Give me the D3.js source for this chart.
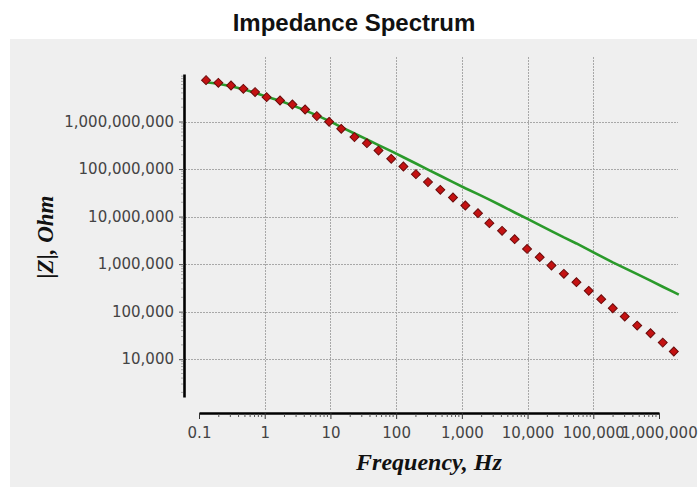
<!DOCTYPE html>
<html>
<head>
<meta charset="utf-8">
<script src="https://cdn.jsdelivr.net/npm/d3@7"></script>
<style>
  html, body { margin: 0; padding: 0; background: #ffffff; }
  svg { display: block; }
</style>
</head>
<body>
<svg id="chart" width="698" height="488"></svg>
<script>
// Measured impedance magnitude |Z| (Ohm) at each frequency (Hz)
const freq = [0.128, 0.197, 0.307, 0.473, 0.713, 1.07, 1.71, 2.64, 4.12, 6.21,
  9.55, 14.6, 23.2, 35.9, 53.9, 84.1, 129, 200, 305, 470,
  733, 1130, 1760, 2620, 4090, 6360, 9820, 15300, 23100, 35700,
  55400, 85300, 132000, 198000, 301000, 466000, 743000, 1140000, 1680000];
const zMeasured = [7.43e9, 6.52e9, 5.72e9, 4.88e9, 4.16e9, 3.26e9, 2.77e9, 2.28e9, 1.79e9, 1.30e9,
  9.86e8, 7.02e8, 4.70e8, 3.51e8, 2.45e8, 1.64e8, 1.13e8, 7.82e7, 5.31e7, 3.66e7,
  2.52e7, 1.71e7, 1.18e7, 7.28e6, 5.01e6, 3.35e6, 2.09e6, 1.40e6, 9.33e5, 6.24e5,
  4.17e5, 2.74e5, 1.83e5, 1.18e5, 7.88e4, 5.09e4, 3.52e4, 2.23e4, 1.45e4];

// Model curve |Z| (Ohm)
const freqFit = [0.128, 0.197, 0.307, 0.473, 0.713, 1.07, 1.71, 2.64, 4.12, 6.21,
  9.55, 14.6, 23.2, 35.9, 53.9, 84.1, 129, 200, 305, 470,
  733, 1130, 1760, 2620, 4090, 6360, 9820, 15300, 23100, 35700,
  55400, 85300, 132000, 198000, 301000, 466000, 743000, 1140000, 1680000, 2000000];
const zFit = [6.68e9, 6.21e9, 5.51e9, 4.76e9, 4.02e9, 3.31e9, 2.73e9, 2.19e9, 1.72e9, 1.35e9,
  1.03e9, 7.62e8, 5.59e8, 4.20e8, 3.20e8, 2.38e8, 1.77e8, 1.31e8, 9.77e7, 7.23e7,
  5.33e7, 3.95e7, 2.97e7, 2.27e7, 1.67e7, 1.22e7, 9.06e6, 6.61e6, 4.94e6, 3.64e6,
  2.72e6, 1.99e6, 1.45e6, 1.09e6, 8.26e5, 6.15e5, 4.49e5, 3.34e5, 2.57e5, 2.28e5];

const xTicks = [0.1, 1, 10, 100, 1000, 10000, 100000, 1000000];
const xTickLabels = ["0.1", "1", "10", "100", "1,000", "10,000", "100,000", "1,000,000"];
const yTicks = [1e4, 1e5, 1e6, 1e7, 1e8, 1e9];
const yTickLabels = ["10,000", "100,000", "1,000,000", "10,000,000", "100,000,000", "1,000,000,000"];

const titleText = "Impedance Spectrum";
const xTitle = "Frequency, Hz";
const yTitle = "|Z|, Ohm";

const svg = d3.select("#chart");

const x = d3.scaleLog().domain([0.1, 1e6]).range([199, 659]);
const y = d3.scaleLog().domain([1600, 1e10]).range([397, 74]);

// plot panel
svg.append("rect")
  .attr("x", 10).attr("y", 39).attr("width", 687).attr("height", 448)
  .attr("fill", "#efefef");

// title
svg.append("text")
  .attr("x", 354).attr("y", 31)
  .attr("text-anchor", "middle")
  .attr("font-family", "'Liberation Sans', Arial, sans-serif")
  .attr("font-weight", "bold")
  .attr("font-size", 24)
  .attr("fill", "#111")
  .text(titleText);

// grid
const grid = svg.append("g").attr("stroke", "#a8a8a8").attr("stroke-width", 1)
  .attr("stroke-dasharray", "2,1");
grid.selectAll("line.h").data(yTicks).join("line")
  .attr("class", "h")
  .attr("x1", 185).attr("x2", 678)
  .attr("y1", d => Math.round(y(d)) + 0.5).attr("y2", d => Math.round(y(d)) + 0.5);
grid.selectAll("line.v").data(xTicks.slice(1, -1)).join("line")
  .attr("class", "v")
  .attr("y1", 57).attr("y2", 410)
  .attr("x1", d => Math.round(x(d)) + 0.5).attr("x2", d => Math.round(x(d)) + 0.5);

// y axis
const yAxis = d3.axisLeft(y)
  .tickValues(yTicks)
  .tickFormat((d, i) => yTickLabels[i])
  .tickSizeInner(5).tickSizeOuter(0).tickPadding(5);
const gy = svg.append("g").attr("transform", "translate(184,0)").call(yAxis);
gy.select(".domain").attr("stroke", "#000").attr("stroke-width", 2.6);
gy.selectAll(".tick line").attr("stroke", "#555");
gy.selectAll(".tick text")
  .attr("font-family", "'DejaVu Sans', Verdana, sans-serif")
  .attr("font-size", 15).attr("fill", "#444");

// y minor ticks
const yMinor = [];
for (let e = 3; e <= 9; e++) for (let m = 2; m <= 9; m++) {
  const v = m * Math.pow(10, e);
  if (v >= 1600 && v <= 1e10) yMinor.push(v);
}
svg.append("g").selectAll("line").data(yMinor).join("line")
  .attr("x1", 181).attr("x2", 183)
  .attr("y1", d => y(d)).attr("y2", d => y(d))
  .attr("stroke", "#aaa").attr("stroke-width", 1);

// x axis
const xAxis = d3.axisBottom(x)
  .tickValues(xTicks)
  .tickFormat((d, i) => xTickLabels[i])
  .tickSizeInner(6).tickSizeOuter(0).tickPadding(8);
const gx = svg.append("g").attr("transform", "translate(0,413)").call(xAxis);
gx.select(".domain").attr("stroke", "#000").attr("stroke-width", 2.6);
gx.selectAll(".tick line").attr("stroke", "#333");
gx.selectAll(".tick text")
  .attr("font-family", "'DejaVu Sans', Verdana, sans-serif")
  .attr("font-size", 15).attr("fill", "#444");

// x minor ticks
const xMinor = [];
for (let e = -1; e <= 5; e++) for (let m = 2; m <= 9; m++) xMinor.push(m * Math.pow(10, e));
svg.append("g").selectAll("line").data(xMinor).join("line")
  .attr("x1", d => x(d)).attr("x2", d => x(d))
  .attr("y1", 414).attr("y2", 417)
  .attr("stroke", "#555").attr("stroke-width", 1);

// axis titles
svg.append("text")
  .attr("x", 429).attr("y", 470)
  .attr("text-anchor", "middle")
  .attr("font-family", "'Liberation Serif', 'Times New Roman', serif")
  .attr("font-style", "italic").attr("font-weight", "bold")
  .attr("font-size", 24).attr("fill", "#111")
  .text(xTitle);
svg.append("text")
  .attr("transform", "translate(53,237) rotate(-90)")
  .attr("text-anchor", "middle")
  .attr("font-family", "'Liberation Serif', 'Times New Roman', serif")
  .attr("font-style", "italic").attr("font-weight", "bold")
  .attr("font-size", 23).attr("fill", "#111")
  .text(yTitle);

// model line
const line = d3.line().x(d => x(d[0])).y(d => y(d[1]));
svg.append("path")
  .datum(freqFit.map((f, i) => [f, zFit[i]]))
  .attr("d", line)
  .attr("fill", "none")
  .attr("stroke", "#2b9a2b")
  .attr("stroke-width", 2.6)
  .attr("stroke-linejoin", "round");

// measured points (diamonds)
const diamond = d3.symbol().type(d3.symbolSquare).size(40);
svg.append("g").selectAll("path").data(freq.map((f, i) => [f, zMeasured[i]])).join("path")
  .attr("d", diamond)
  .attr("transform", d => `translate(${x(d[0])},${y(d[1])}) rotate(45)`)
  .attr("fill", "#c41212")
  .attr("stroke", "#6a0a0a")
  .attr("stroke-width", 1);
</script>
</body>
</html>
